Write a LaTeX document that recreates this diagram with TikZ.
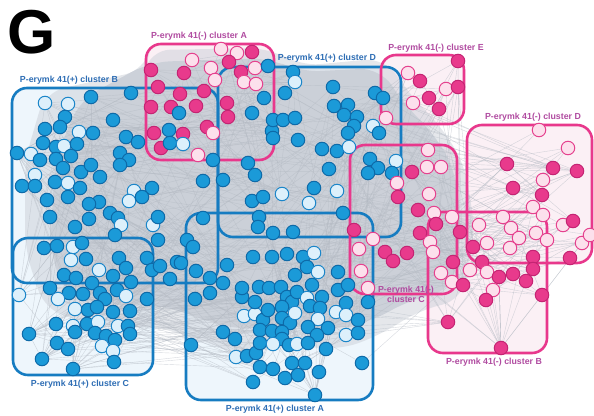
\documentclass[tikz,border=0pt]{standalone}
\usepackage{fontspec}
\setmainfont{Liberation Sans}
\definecolor{bluebox}{HTML}{167CC1}
\definecolor{pinkbox}{HTML}{E8388C}
\definecolor{bluetint}{HTML}{EEF6FC}
\definecolor{pinktint}{HTML}{FBF0F5}
\definecolor{nbfill}{HTML}{1B9AD8}
\definecolor{nbdraw}{HTML}{0E6AA8}
\definecolor{nlbfill}{HTML}{DDF0FB}
\definecolor{nlbdraw}{HTML}{1C86C9}
\definecolor{npfill}{HTML}{E83A8C}
\definecolor{npdraw}{HTML}{C42473}
\definecolor{nlpfill}{HTML}{FCE0EC}
\definecolor{nlpdraw}{HTML}{E5418E}
\definecolor{bluelabel}{HTML}{2D6DB4}
\definecolor{pinklabel}{HTML}{B04BA0}
\definecolor{edgegray}{HTML}{B4BAC3}
\definecolor{massgray}{HTML}{CBD0D8}
\pgfdeclarelayer{back}
\pgfdeclarelayer{edges}
\pgfdeclarelayer{outl}
\pgfsetlayers{back,edges,outl,main}
\begin{document}
\begin{tikzpicture}[x=1pt,y=-1pt,
  nodebase/.style={circle,minimum size=13.5pt,inner sep=0pt,line width=1pt},
  nb/.style={nodebase,fill=nbfill,draw=nbdraw},
  nlb/.style={nodebase,fill=nlbfill,draw=nlbdraw},
  np/.style={nodebase,fill=npfill,draw=npdraw},
  nlp/.style={nodebase,fill=nlpfill,draw=nlpdraw},
  edge/.style={draw=edgegray,line width=0.4pt,opacity=0.55},
  bbox/.style={draw=bluebox,line width=2.6pt,rounded corners=15pt},
  pbox/.style={draw=pinkbox,line width=2.6pt,rounded corners=15pt},
  btint/.style={fill=bluetint,rounded corners=15pt},
  ptint/.style={fill=pinktint,rounded corners=15pt},
  blab/.style={text=bluelabel,font=\fontsize{8.8}{10}\selectfont\bfseries,inner sep=0pt},
  plab/.style={text=pinklabel,font=\fontsize{8.8}{10}\selectfont\bfseries,inner sep=0pt,align=center}]
\useasboundingbox (0,0) rectangle (594,415);

% ---- tints and gray mass
\begin{pgfonlayer}{back}
  \path[btint] (12,88) rectangle (218,283);
  \path[btint] (218,67) rectangle (401,237);
  \path[btint] (13,238) rectangle (153,375);
  \path[btint] (186,213) rectangle (373,400);
  \path[ptint] (146,44) rectangle (274,160);
  \path[ptint] (381,55) rectangle (464,124);
  \path[ptint] (467,125) rectangle (593,263);
  \path[ptint] (350,145) rectangle (457,294);
  \path[ptint] (428,212) rectangle (547,353);
  \fill[massgray,opacity=0.5,rounded corners=20pt]
    (45,92) -- (145,70) -- (150,50) -- (270,48) -- (300,66) -- (385,58) -- (410,95) -- (440,125)
    -- (465,165) -- (475,230) -- (462,300) -- (420,310) -- (380,335) -- (340,350) -- (290,345)
    -- (240,355) -- (200,340) -- (150,325) -- (95,325) -- (45,310) -- (25,250) -- (25,160) -- cycle;
  \fill[massgray,opacity=0.95,rounded corners=20pt]
    (80,100) -- (150,62) -- (270,58) -- (300,72) -- (380,68) -- (405,105) -- (435,135)
    -- (455,170) -- (462,230) -- (452,290) -- (410,300) -- (370,322) -- (330,330) -- (280,325)
    -- (235,330) -- (200,318) -- (160,305) -- (110,305) -- (65,295) -- (50,250) -- (55,160) -- cycle;
\end{pgfonlayer}

% ---- nodes
\def\nodelist{221/49/nlp,237/53/nlp,252/52/np,192/60/nlp,229/62/np,151/70/np,184/73/np,211/68/nlp,215/80/nlp,241/72/np,255/68/nlp,244/82/nlp,256/84/nlp,158/87/np,180/94/np,204/91/np,151/107/np,171/107/np,196/106/np,227/103/np,228/117/np,154/133/np,183/134/np,207/127/np,213/133/nlp,161/148/np,198/155/nlp,
268/66/nb,179/113/nb,169/130/nb,170/143/nb,183/144/nlb,252/113/nb,264/98/nb,285/93/nb,272/131/nb,273/138/nb,273/120/nb,283/120/nb,295/118/nb,298/140/nb,293/72/nb,295/82/nlb,213/160/nb,248/163/nb,255/175/nb,223/180/nb,203/181/nb,252/201/nb,263/197/nb,282/194/nlb,
45/103/nlb,68/104/nlb,91/97/nb,131/93/nb,65/117/nb,60/127/nb,45/129/nb,79/132/nlb,93/133/nb,113/120/nb,43/143/nb,56/147/nb,64/146/nlb,77/144/nb,31/154/nlb,40/160/nb,56/159/nb,71/156/nb,63/168/nb,81/172/nb,91/165/nb,100/177/nb,120/153/nb,129/160/nb,120/165/nb,126/137/nb,138/142/nb,35/175/nlb,22/186/nb,35/186/nb,55/182/nb,68/183/nlb,80/188/nb,47/200/nb,68/197/nb,99/202/nb,89/204/nb,134/191/nlb,152/188/nb,129/201/nlb,142/197/nb,
50/217/nb,75/227/nb,89/219/nb,110/213/nb,118/218/nb,121/225/nlb,153/225/nlb,158/217/nb,115/235/nb,158/240/nb,203/218/nb,187/240/nb,193/247/nb,44/248/nb,57/246/nb,73/247/nlb,82/243/nb,71/260/nlb,86/259/nb,99/270/nlb,119/258/nb,126/268/nb,147/258/nb,152/270/nb,160/266/nb,177/262/nb,181/263/nb,170/279/nb,64/275/nb,76/278/nb,92/283/nb,113/276/nb,131/282/nb,196/271/nb,210/278/nb,227/265/nb,50/288/nb,69/293/nb,83/294/nb,100/293/nb,117/290/nb,126/296/nlb,105/299/nb,19/295/nlb,58/299/nlb,147/299/nb,195/299/nb,210/293/nb,223/283/nb,75/309/nlb,88/310/nb,97/307/nb,113/312/nb,130/311/nb,56/324/nb,73/326/nlb,75/332/nb,87/324/nb,98/322/nlb,95/333/nb,118/326/nlb,128/326/nb,130/334/nb,29/334/nb,57/343/nb,68/349/nb,106/336/nb,115/340/nb,102/346/nlb,113/351/nlb,114/362/nb,42/359/nb,73/369/nb,
191/345/nb,223/332/nb,235/339/nb,236/357/nlb,247/356/nb,256/353/nb,260/367/nb,253/382/nb,273/369/nb,285/378/nb,244/316/nlb,255/314/nlb,263/320/nb,268/310/nb,255/302/nb,242/297/nb,242/288/nb,259/287/nb,269/288/nb,281/287/nb,287/297/nb,292/302/nb,297/292/nb,295/275/nb,272/257/nb,253/257/nb,287/254/nb,282/307/nb,282/318/nb,290/323/nb,295/313/nlb,260/330/nb,272/331/nb,282/332/nb,282/339/nb,260/343/nb,273/344/nlb,289/345/nb,297/344/nlb,259/217/nb,258/227/nb,273/233/nb,293/232/nb,
343/213/nb,303/257/nb,314/253/nlb,307/267/nb,318/272/nlb,312/285/nb,322/297/nb,307/298/nlb,338/272/nb,338/290/nb,348/285/nb,346/303/nb,336/312/nlb,346/315/nlb,358/320/nb,368/302/nb,310/306/nb,320/308/nb,318/319/nlb,308/327/nb,328/328/nb,346/335/nlb,358/333/nb,317/335/nb,308/343/nb,326/349/nb,292/363/nb,305/363/nb,319/372/nb,298/375/nb,362/363/nb,
333/87/nb,375/93/nb,383/98/nb,334/106/nb,348/105/nb,344/115/nb,357/117/nb,354/126/nb,373/126/nlb,379/133/nb,348/133/nb,322/149/nb,337/151/nb,349/147/nlb,370/159/nb,396/161/nlb,378/168/nb,368/173/nb,392/173/nb,329/169/nb,314/188/nb,337/191/nlb,309/203/nlb,
458/61/np,408/73/nlp,420/81/np,446/89/nlp,458/87/np,429/98/np,413/103/nlp,439/109/np,386/118/nlp,539/130/nlp,568/148/nlp,507/164/np,553/168/np,577/171/np,543/180/nlp,513/188/np,542/195/np,428/150/nlp,427/167/nlp,441/167/nlp,412/172/np,397/183/nlp,429/194/nlp,398/197/np,
354/230/np,373/239/nlp,359/249/nlp,361/271/nlp,368/288/nlp,385/252/np,393/261/np,407/253/np,418/210/np,434/213/nlp,420/233/np,436/224/np,452/217/nlp,430/242/nlp,433/252/nlp,460/232/np,453/262/np,441/273/nlp,452/282/nlp,463/285/np,473/247/np,470/270/nlp,482/262/np,487/272/nlp,499/277/np,493/290/nlp,486/300/np,513/274/np,526/281/np,542/295/np,479/225/nlp,487/243/nlp,503/217/nlp,511/228/nlp,519/238/nlp,510/248/nlp,536/233/nlp,547/240/nlp,533/207/nlp,543/215/nlp,533/257/np,533/269/np,563/225/nlp,573/221/np,582/243/nlp,570/258/np,590/235/nlp}
\foreach [count=\i] \x/\y/\t in \nodelist {
  \node[\t] (n\i) at (\x,\y) {};
  \xdef\NN{\i}
}
\node[nb] (hL) at (17,153) {};
\node[nb] (hA) at (315,395) {};
\node[np] (hB) at (501,348) {};
\node[np] (hC) at (448,322) {};

% ---- edges
\begin{pgfonlayer}{edges}
\pgfmathsetseed{4711}
\foreach \k in {1,...,520}{
  \pgfmathtruncatemacro\a{random(1,\NN)}
  \pgfmathtruncatemacro\lo{max(1,\a-45)}
  \pgfmathtruncatemacro\hi{min(\NN,\a+45)}
  \pgfmathtruncatemacro\b{random(\lo,\hi)}
  \draw[edge] (n\a) -- (n\b);
}
\foreach \k in {1,...,260}{
  \pgfmathtruncatemacro\a{random(1,\NN)}
  \pgfmathtruncatemacro\b{random(1,\NN)}
  \draw[edge] (n\a) -- (n\b);
}
\foreach \k in {1,...,20}{
  \pgfmathtruncatemacro\b{random(52,165)}
  \draw[edge] (hL) -- (n\b);
}
\foreach \k in {1,...,16}{
  \pgfmathtruncatemacro\b{random(166,239)}
  \draw[edge] (hA) -- (n\b);
}
\foreach \k in {1,...,16}{
  \pgfmathtruncatemacro\b{random(263,333)}
  \draw[edge] (hB) -- (n\b);
}
\foreach \k in {1,...,12}{
  \pgfmathtruncatemacro\b{random(166,333)}
  \draw[edge] (hC) -- (n\b);
}
\foreach \h in {136,156,164,165}{
  \foreach \k in {1,...,10}{
    \pgfmathtruncatemacro\b{random(52,165)}
    \draw[edge] (n\h) -- (n\b);
  }
}
\end{pgfonlayer}

% ---- cluster outlines
\begin{pgfonlayer}{outl}
  \draw[bbox] (12,88) rectangle (218,283);
  \draw[bbox] (13,238) rectangle (153,375);
  \draw[bbox] (186,213) rectangle (373,400);
  \draw[pbox] (146,44) rectangle (274,160);
  \draw[bbox] (218,67) rectangle (401,237);
  \draw[pbox] (381,55) rectangle (464,124);
  \draw[pbox] (467,125) rectangle (592,263);
  \draw[pbox] (350,145) rectangle (457,294);
  \draw[pbox] (428,212) rectangle (547,353);
\end{pgfonlayer}

% ---- labels
\node[inner sep=0pt,font=\fontsize{62}{62}\selectfont\bfseries] (G) at (32,32) {G};
\node[blab] (lB) at (69,80) {P-erymk 41(+) cluster B};
\node[plab] (lA) at (199,36) {P-erymk 41(-) cluster A};
\node[blab] (lD) at (327,58) {P-erymk 41(+) cluster D};
\node[plab] (lE) at (436,48) {P-erymk 41(-) cluster E};
\node[plab] (lDm) at (533,117) {P-erymk 41(-) cluster D};
\node[plab] (lC) at (406,294) {P-erymk 41(-)\\cluster C};
\node[plab] (lBm) at (494,362) {P-erymk 41(-) cluster B};
\node[blab] (lCp) at (80,384) {P-erymk 41(+) cluster C};
\node[blab] (lAp) at (275,409) {P-erymk 41(+) cluster A};
\end{tikzpicture}
\end{document}
